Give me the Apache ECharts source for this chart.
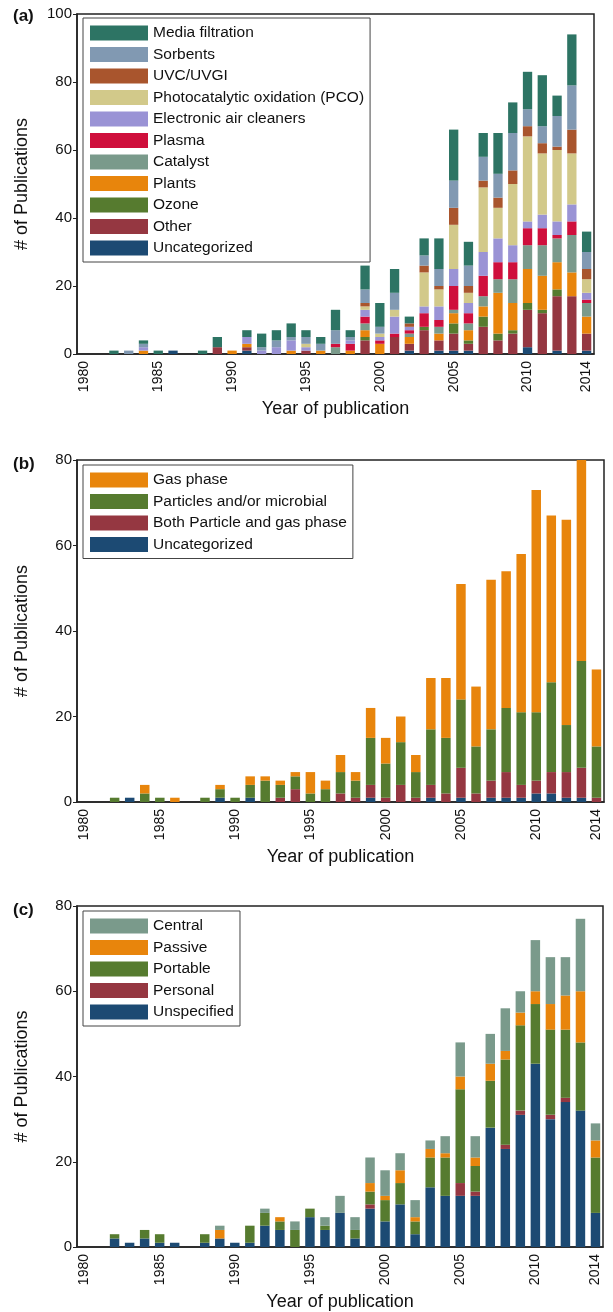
<!DOCTYPE html>
<html>
<head>
<meta charset="utf-8">
<script src="https://cdn.jsdelivr.net/npm/echarts@6/dist/echarts.min.js"></script>
<style>
  html, body { margin: 0; padding: 0; background: #fff; }
  #main { width: 613px; height: 1312px; }
</style>
</head>
<body>
<div id="main"></div>
<script>
// years on the x axis (one band per year)
const years = [];
for (let y = 1980; y <= 2014; y++) years.push(String(y));
const yearTicks = ['1980', '1985', '1990', '1995', '2000', '2005', '2010', '2014'];

// ---- panel (a): technology --------------------------------------------
//                  1980       1985       1990       1995       2000       2005          2010
const aUncat    = [0,0,0,0,0, 0,1,0,0,0, 0,1,0,0,0, 0,0,0,0,0, 0,0,1,0,1, 1,1,0,0,0, 2,0,1,0,1];
const aOther    = [0,0,0,0,0, 0,0,0,0,2, 0,1,0,0,0, 1,0,0,0,4, 0,5,2,7,3, 5,2,8,4,6, 11,12,16,17,5];
const aOzone    = [0,0,0,0,0, 0,0,0,0,0, 0,0,0,0,0, 0,0,0,0,1, 0,0,0,1,0, 3,1,3,2,1, 2,1,2,0,0];
const aPlants   = [0,0,0,0,1, 0,0,0,0,0, 1,1,0,0,1, 0,1,0,1,2, 3,0,2,0,2, 3,3,3,12,8, 10,10,8,7,5];
const aCatalyst = [0,0,0,0,0, 0,0,0,0,0, 0,0,0,0,0, 0,0,2,0,2, 0,0,1,0,2, 1,2,3,4,7, 7,9,7,11,4];
const aPlasma   = [0,0,0,0,0, 0,0,0,0,0, 0,0,0,0,0, 0,0,1,2,2, 1,1,1,4,2, 7,3,6,5,5, 5,5,1,4,1];
const aEAC      = [0,0,0,0,1, 0,0,0,0,0, 0,2,1,2,3, 1,0,0,1,2, 1,5,1,2,4, 5,3,7,7,5, 2,4,4,5,2];
const aPCO      = [0,0,0,0,0, 0,0,0,0,0, 0,0,0,0,0, 1,0,0,0,1, 1,2,0,10,5, 13,3,19,9,18, 25,18,21,15,4];
const aUVC      = [0,0,0,0,0, 0,0,0,0,0, 0,0,0,0,0, 0,0,0,0,1, 0,0,1,2,1, 5,2,2,3,4, 3,3,1,7,3];
const aSorbents = [0,0,0,1,1, 0,0,0,0,0, 0,0,1,2,1, 2,2,4,1,4, 2,5,0,3,5, 8,6,7,7,11, 5,5,9,13,5];
const aMedia    = [0,0,1,0,1, 1,0,0,1,3, 0,2,4,3,4, 2,2,6,2,7, 7,7,2,5,9, 15,7,7,12,9, 11,15,6,15,6];

// ---- panel (b): pollutant ---------------------------------------------
const bUncat     = [0,0,0,1,0, 0,0,0,0,1, 0,1,0,0,0, 0,0,0,0,1, 0,0,0,1,0, 1,0,1,1,1, 2,2,1,1,0];
const bBoth      = [0,0,0,0,0, 0,0,0,0,0, 0,0,0,1,3, 0,0,2,1,3, 1,4,1,3,2, 7,2,4,6,3, 3,5,6,7,1];
const bParticles = [0,0,1,0,2, 1,0,0,1,2, 1,3,5,3,3, 2,3,5,4,11, 8,10,6,13,13, 16,11,12,15,17, 16,21,11,25,12];
const bGas       = [0,0,0,0,2, 0,1,0,0,1, 0,2,1,1,1, 5,2,4,2,7, 6,6,4,12,14, 27,14,35,32,37, 52,39,48,47,18];

// ---- panel (c): device type -------------------------------------------
const cUnspecified = [0,0,2,1,2, 1,1,0,1,2, 1,1,5,4,0, 7,4,8,2,9, 6,10,3,14,12, 12,12,28,23,31, 43,30,34,32,8];
const cPersonal    = [0,0,0,0,0, 0,0,0,0,0, 0,0,0,0,0, 0,0,0,0,1, 0,0,0,0,0, 3,1,0,1,1, 0,1,1,0,0];
const cPortable    = [0,0,1,0,2, 2,0,0,2,0, 0,4,3,2,4, 2,1,0,2,3, 5,5,3,7,9, 22,6,11,20,20, 14,20,16,16,13];
const cPassive     = [0,0,0,0,0, 0,0,0,0,2, 0,0,0,1,0, 0,0,0,0,2, 1,3,1,2,1, 3,2,4,2,3, 3,6,8,12,4];
const cCentral     = [0,0,0,0,0, 0,0,0,0,1, 0,0,1,0,2, 0,2,4,3,6, 6,4,4,2,4, 8,5,7,10,5, 12,11,9,17,4];

const C = {
  navy: '#1c4a73', wine: '#953741', green: '#567b2f', orange: '#e8850c',
  catalyst: '#7a9a8b', plasma: '#cf0f3c', lavender: '#9a93d5', khaki: '#d2c98a',
  uvc: '#a9552d', sorb: '#8199b2', media: '#2d7464'
};

const FONT = 'Liberation Sans, Arial, sans-serif';

const panelA = [
  ['Uncategorized', aUncat, C.navy],
  ['Other', aOther, C.wine],
  ['Ozone', aOzone, C.green],
  ['Plants', aPlants, C.orange],
  ['Catalyst', aCatalyst, C.catalyst],
  ['Plasma', aPlasma, C.plasma],
  ['Electronic air cleaners', aEAC, C.lavender],
  ['Photocatalytic oxidation (PCO)', aPCO, C.khaki],
  ['UVC/UVGI', aUVC, C.uvc],
  ['Sorbents', aSorbents, C.sorb],
  ['Media filtration', aMedia, C.media]
];
const panelB = [
  ['Uncategorized', bUncat, C.navy],
  ['Both Particle and gas phase', bBoth, C.wine],
  ['Particles and/or microbial', bParticles, C.green],
  ['Gas phase', bGas, C.orange]
];
const panelC = [
  ['Unspecified', cUnspecified, C.navy],
  ['Personal', cPersonal, C.wine],
  ['Portable', cPortable, C.green],
  ['Passive', cPassive, C.orange],
  ['Central', cCentral, C.catalyst]
];

const grids = [
  { left: 77, top: 14, width: 517, height: 340 },
  { left: 77, top: 460, width: 527, height: 342 },
  { left: 77, top: 906, width: 526, height: 342 }
];

function makeX(i) {
  return {
    type: 'category', gridIndex: i, data: years,
    name: 'Year of publication', nameLocation: 'middle', nameGap: 46,
    nameTextStyle: { fontSize: 18, color: '#111', fontFamily: FONT },
    axisLine: { lineStyle: { color: '#222', width: 1.5 } },
    axisTick: { show: false },
    axisLabel: {
      rotate: 90, fontSize: 14, color: '#111', fontFamily: FONT, margin: 7,
      interval: (idx, val) => yearTicks.indexOf(val) >= 0
    }
  };
}
function makeY(i, max) {
  return {
    type: 'value', gridIndex: i, min: 0, max: max, interval: 20,
    name: '# of Publications', nameLocation: 'middle', nameGap: 46,
    nameTextStyle: { fontSize: 18, color: '#111', fontFamily: FONT },
    axisLine: { show: true, lineStyle: { color: '#222', width: 1.5 } },
    axisTick: { show: true, length: 4, lineStyle: { color: '#222' } },
    axisLabel: { fontSize: 15, color: '#111', fontFamily: FONT, margin: 5 },
    splitLine: { show: false }
  };
}

const series = [];
[panelA, panelB, panelC].forEach((panel, i) => {
  panel.forEach(([name, data, color]) => {
    series.push({
      type: 'bar', name: name, stack: 'p' + i,
      xAxisIndex: i, yAxisIndex: i,
      data: data, barWidth: '63%',
      itemStyle: { color: color },
      emphasis: { disabled: true }
    });
  });
});

function makeLegend(panel, top) {
  return {
    orient: 'vertical', left: 83, top: top,
    data: panel.map(p => p[0]).reverse(),
    icon: 'rect', itemWidth: 58, itemHeight: 15, itemGap: 5.5,
    padding: [7, 6, 6, 7],
    borderColor: '#444', borderWidth: 1, backgroundColor: '#fff',
    textStyle: { fontSize: 15.5, color: '#111', fontFamily: FONT },
    selectedMode: false
  };
}

const option = {
  animation: false,
  textStyle: { fontFamily: FONT },
  title: [
    { text: '(a)', left: 8, top: 3, textStyle: { fontSize: 17, fontWeight: 'bold', color: '#111', fontFamily: FONT } },
    { text: '(b)', left: 8, top: 451, textStyle: { fontSize: 17, fontWeight: 'bold', color: '#111', fontFamily: FONT } },
    { text: '(c)', left: 8, top: 897, textStyle: { fontSize: 17, fontWeight: 'bold', color: '#111', fontFamily: FONT } }
  ],
  grid: grids.map(g => Object.assign({ show: true, borderColor: '#222', borderWidth: 1.5, backgroundColor: 'transparent' }, g)),
  xAxis: [makeX(0), makeX(1), makeX(2)],
  yAxis: [makeY(0, 100), makeY(1, 80), makeY(2, 80)],
  legend: [makeLegend(panelA, 18), makeLegend(panelB, 465), makeLegend(panelC, 911)],
  series: series
};

const chart = echarts.init(document.getElementById('main'), null, { renderer: 'canvas' });
chart.setOption(option);
</script>
</body>
</html>
